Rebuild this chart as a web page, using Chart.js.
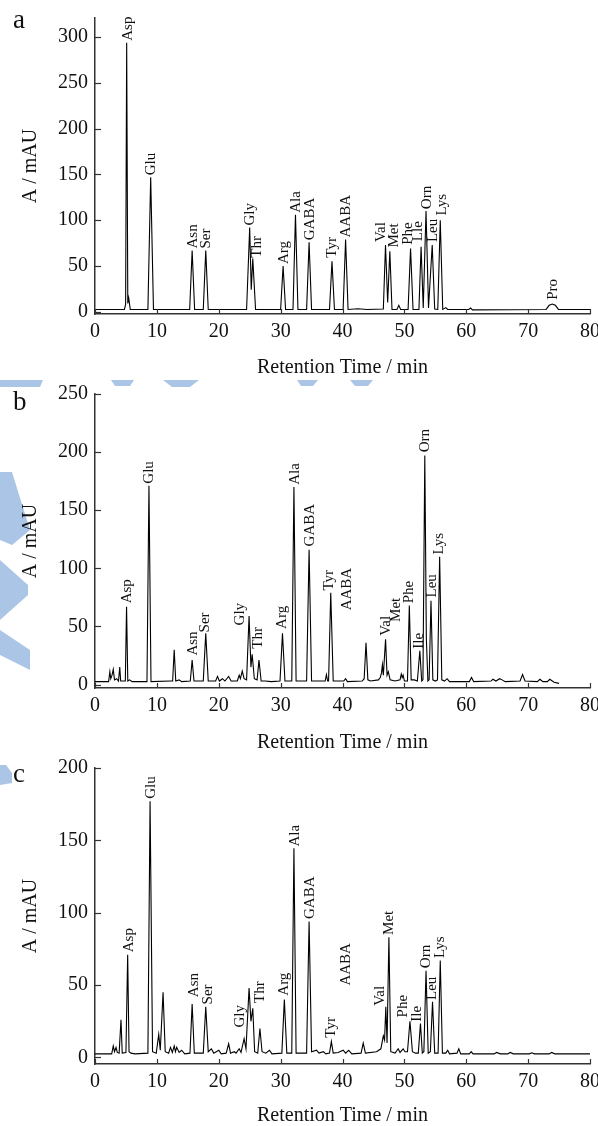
<!DOCTYPE html>
<html>
<head>
<meta charset="utf-8">
<script src="https://cdn.jsdelivr.net/npm/chart.js@4.4.1/dist/chart.umd.min.js"></script>
<style>
  html, body { margin: 0; padding: 0; background: #fff; }
  body { width: 598px; height: 1126px; position: relative; overflow: hidden; }
  canvas { position: absolute; left: 0; }
</style>
</head>
<body>
<canvas id="panelA" width="598" height="380" style="top:0px"></canvas>
<canvas id="panelB" width="598" height="375" style="top:380px"></canvas>
<canvas id="panelC" width="598" height="371" style="top:755px"></canvas>
<script>
// chromatogram traces, [retention time (min), absorbance (mAU)]
const traceA = [
  [0, 2.5], [4.75, 2.5], [4.95, 8], [5.12, 294], [5.3, 9], [5.45, 15], [5.7, 2.5],
  [8.55, 2.5], [9.0, 147], [9.45, 2.5],
  [15.3, 2.5], [15.7, 67], [16.1, 2.5],
  [17.5, 2.5], [17.9, 67], [18.3, 2.5],
  [24.5, 2.5], [25.0, 92], [25.25, 24], [25.5, 58], [25.95, 2.5],
  [30.0, 2.5], [30.4, 50], [30.8, 2.5],
  [32.0, 2.5], [32.4, 106], [32.8, 2.5],
  [34.2, 2.5], [34.6, 76], [35.0, 2.5],
  [37.9, 2.5], [38.3, 55], [38.7, 2.5],
  [40.1, 2.5], [40.5, 79], [40.9, 2.5], [42.5, 3.2], [44.0, 2.5],
  [46.6, 3], [46.95, 73], [47.3, 10], [47.65, 66], [48.0, 2.5],
  [48.8, 2.5], [49.1, 7], [49.4, 2.5],
  [50.6, 2.5], [51.0, 69], [51.4, 2.5],
  [52.35, 2.5], [52.7, 71], [53.05, 4], [53.5, 110], [53.9, 4], [54.5, 73], [54.9, 3],
  [55.4, 2.5], [55.8, 100], [56.2, 2.5], [56.7, 4.5], [57.0, 2.5],
  [60.4, 2.5], [60.7, 4], [61.0, 2], [72.9, 2.5], [73.4, 7], [73.9, 8.4], [74.4, 7], [74.9, 2.5],
  [80, 2.5]
];
const traceB = [
  [0, 2.5], [2.2, 2.5], [2.4, 11], [2.55, 5], [2.75, 8], [2.95, 13], [3.15, 4], [3.5, 5], [3.8, 3],
  [4.0, 15], [4.15, 3], [4.9, 3], [5.1, 67], [5.3, 3], [5.6, 4], [6.0, 2.5],
  [8.4, 2.5], [8.72, 171], [9.05, 2.5],
  [12.2, 3], [12.55, 3], [12.8, 30], [13.05, 3], [13.6, 4], [14.0, 2.5],
  [15.4, 3], [15.7, 21], [16.0, 3],
  [17.5, 3], [17.9, 44], [18.3, 3],
  [19.5, 3], [19.8, 7], [20.1, 3], [20.6, 5], [21.0, 3], [21.6, 7], [22.0, 3], [23.0, 3],
  [23.3, 8], [23.5, 5], [23.8, 11.5], [24.1, 5], [24.5, 4],
  [24.9, 59], [25.2, 15], [25.4, 26], [25.75, 5], [26.2, 4], [26.5, 21], [26.85, 3], [27.5, 3], [28.5, 2.5],
  [29.9, 3], [30.3, 44], [30.7, 3],
  [31.8, 3], [32.15, 170], [32.5, 3],
  [34.2, 3], [34.6, 116], [35.0, 3],
  [37.2, 3], [37.4, 8.5], [37.6, 3], [37.75, 3], [38.1, 79], [38.5, 3],
  [40.2, 3], [40.5, 5], [40.8, 2.5], [43.2, 3], [43.5, 5], [43.8, 36], [44.1, 4], [44.5, 3],
  [45.8, 4], [46.1, 6], [46.3, 10], [46.45, 17], [46.6, 8], [46.96, 39], [47.2, 8], [47.4, 11], [47.7, 4],
  [48.5, 3], [49.3, 4], [49.5, 9], [49.65, 6], [49.8, 8], [50.0, 3],
  [50.5, 3], [50.8, 68], [51.1, 4], [51.6, 4], [52.1, 3], [52.5, 29], [52.8, 3], [53.0, 4],
  [53.3, 197], [53.55, 40], [53.8, 3], [54.0, 4], [54.3, 72], [54.6, 4], [55.0, 3],
  [55.35, 4], [55.7, 110], [56.05, 4], [56.5, 3], [56.9, 5], [57.3, 2.5],
  [60.5, 2.5], [60.85, 6], [61.2, 2.5], [64.0, 3], [64.3, 4.5], [64.8, 3], [65.4, 5], [65.8, 4], [66.3, 2.5],
  [68.7, 3], [69.1, 8.5], [69.5, 3], [71.5, 2.5], [71.9, 4.5], [72.4, 2.5], [73.1, 2.5], [73.5, 4.5],
  [74.2, 2], [75.0, 1]
];
const traceC = [
  [0, 2.5], [2.7, 2.5], [2.95, 8], [3.15, 4], [3.4, 7], [3.6, 3.5], [3.9, 3], [4.2, 26], [4.4, 3],
  [5.0, 3.5], [5.28, 71], [5.5, 4], [5.8, 3], [6.5, 2.5],
  [8.55, 3], [8.9, 177], [9.3, 4], [9.9, 3], [10.3, 16], [10.55, 5], [11.0, 45], [11.35, 4],
  [11.9, 3], [12.2, 7], [12.5, 3.5], [12.8, 8], [13.0, 4], [13.2, 7], [13.6, 3.5], [14.0, 5], [14.5, 2.5],
  [15.35, 3], [15.7, 37], [16.05, 3], [17.5, 3], [17.9, 35], [18.3, 4], [18.8, 6], [19.2, 3],
  [20.0, 5], [20.4, 2.5], [21.2, 3], [21.6, 9.5], [21.9, 3], [22.5, 4], [22.8, 3], [23.3, 6], [23.6, 3.5],
  [24.1, 13], [24.4, 6], [24.9, 48], [25.2, 25], [25.5, 34], [25.8, 4], [26.3, 3], [26.65, 20], [27.0, 4],
  [27.6, 3], [28.2, 5], [28.6, 2.5],
  [30.2, 3], [30.6, 40], [31.0, 3], [31.8, 3], [32.15, 144.5], [32.5, 3], [34.2, 3], [34.6, 94], [35.0, 4],
  [35.8, 5], [36.2, 3], [36.9, 4], [37.3, 2.5], [37.9, 3], [38.2, 11], [38.5, 3], [39.3, 3.5],
  [40.1, 5], [40.5, 3], [41.0, 5], [41.5, 2.5], [43.0, 3], [43.35, 10], [43.7, 3],
  [45.5, 4], [46.2, 6], [46.6, 15], [46.8, 12], [47.0, 35], [47.2, 10], [47.5, 83], [47.8, 4],
  [48.5, 3], [49.0, 6], [49.3, 3.5], [49.8, 6], [50.1, 4], [50.5, 4], [50.9, 25], [51.3, 4], [51.8, 3],
  [52.25, 3], [52.6, 23.5], [52.9, 3], [53.15, 4], [53.5, 60], [53.85, 3], [54.2, 4], [54.55, 38.5], [54.9, 3],
  [55.45, 3], [55.8, 67], [56.15, 3], [56.7, 3], [57.0, 5], [57.3, 2.5], [58.5, 3], [58.8, 6], [59.1, 2.5],
  [60.5, 2.5], [60.8, 4], [61.1, 2.5], [64.5, 2.5], [64.9, 3.5], [65.5, 2.5], [66.7, 2.5], [67.1, 3.5],
  [67.6, 2.5], [70.2, 2.5], [70.6, 3.2], [71.0, 2.5], [73.4, 2.5], [73.8, 3.5], [74.3, 2.5], [80, 2.5]
];

// peak names and where each label starts (time, mAU)
const namesA = ['Asp', 'Glu', 'Asn', 'Ser', 'Gly', 'Thr', 'Arg', 'Ala', 'GABA', 'Tyr', 'AABA',
  'Val', 'Met', 'Phe', 'Lle', 'Orn', 'Leu', 'Lys', 'Pro'];
const labelTimeA = [5.3, 9.1, 15.8, 18.0, 25.1, 26.2, 30.5, 32.5, 34.7, 38.3, 40.6,
  46.3, 48.4, 50.6, 52.2, 53.6, 54.7, 56.1, 74.0];
const labelValA = [295, 148, 68, 68, 93, 58, 51, 107, 77, 58, 80,
  75, 69, 72, 76, 111, 75, 104, 12];

const namesB = ['Asp', 'Glu', 'Asn', 'Ser', 'Gly', 'Thr', 'Arg', 'Ala', 'GABA', 'Tyr', 'AABA',
  'Val', 'Met', 'Phe', 'Ile', 'Orn', 'Leu', 'Lys'];
const labelTimeB = [5.25, 8.7, 15.8, 17.8, 23.4, 26.4, 30.3, 32.3, 34.7, 37.8, 40.7,
  47.0, 48.7, 50.8, 52.4, 53.3, 54.4, 55.6];
const labelValB = [69, 172, 24, 44, 50, 30, 47, 171, 118, 80, 63,
  41, 53, 69, 30, 199, 74, 111];

const namesC = ['Asp', 'Glu', 'Asn', 'Ser', 'Gly', 'Thr', 'Arg', 'Ala', 'GABA', 'Tyr', 'AABA',
  'Val', 'Met', 'Phe', 'Ile', 'Orn', 'Leu', 'Lys'];
const labelTimeC = [5.5, 9.0, 16.0, 18.2, 23.5, 26.6, 30.5, 32.3, 34.7, 38.2, 40.6,
  46.0, 47.6, 49.8, 52.0, 53.5, 54.4, 55.8];
const labelValC = [72, 178, 41, 36, 20, 37, 42, 145, 95, 13, 49,
  35, 84, 27, 24, 61, 39, 68];

const timeTicks = [0, 10, 20, 30, 40, 50, 60, 70, 80];
const ticksA = [0, 50, 100, 150, 200, 250, 300];
const ticksB = [0, 50, 100, 150, 200, 250];
const ticksC = [0, 50, 100, 150, 200];

const SERIF = '"Liberation Serif", "Times New Roman", serif';
const AXIS = '#333';
const WATERMARK = '#aac5e6';

// faint journal watermark behind panels b and c (canvas pixels)
const watermarkB = [
  [[0, 0], [43, 0], [40, 7], [0, 7]],
  [[111, 0], [134, 0], [130, 6], [115, 6]],
  [[163, 0], [199, 0], [190, 7], [172, 7]],
  [[297, 0], [318, 0], [313, 6], [301, 6]],
  [[350, 0], [373, 0], [368, 6], [355, 6]],
  [[0, 92], [12, 92], [30, 150], [12, 165], [0, 160]],
  [[0, 180], [28, 205], [28, 215], [0, 240]],
  [[0, 250], [30, 270], [30, 290], [0, 275]]
];
const watermarkC = [
  [[0, 10], [6, 10], [12, 18], [12, 28], [0, 30]]
];

const watermarkPlugin = {
  id: 'watermark',
  beforeDraw(chart, args, opts) {
    if (!opts.shapes) return;
    const ctx = chart.ctx;
    ctx.save();
    ctx.fillStyle = WATERMARK;
    opts.shapes.forEach(shape => {
      ctx.beginPath();
      shape.forEach((p, i) => (i ? ctx.lineTo(p[0], p[1]) : ctx.moveTo(p[0], p[1])));
      ctx.closePath();
      ctx.fill();
    });
    ctx.restore();
  }
};

// inward tick marks, rotated peak names and the panel letter
const markPlugin = {
  id: 'marks',
  afterDatasetsDraw(chart, args, opts) {
    const ctx = chart.ctx;
    const x = chart.scales.x;
    const y = chart.scales.y;
    ctx.save();
    ctx.strokeStyle = AXIS;
    ctx.lineWidth = 1.2;
    x.ticks.forEach(t => {
      const px = Math.round(x.getPixelForValue(t.value)) + 0.5;
      ctx.beginPath();
      ctx.moveTo(px, x.top);
      ctx.lineTo(px, x.top - 5);
      ctx.stroke();
    });
    y.ticks.forEach(t => {
      const py = Math.round(y.getPixelForValue(t.value)) + 0.5;
      ctx.beginPath();
      ctx.moveTo(y.right, py);
      ctx.lineTo(y.right + 6, py);
      ctx.stroke();
    });

    ctx.fillStyle = '#111';
    ctx.font = '15px ' + SERIF;
    opts.names.forEach((name, i) => {
      const px = x.getPixelForValue(opts.times[i]);
      const py = y.getPixelForValue(opts.values[i]);
      ctx.save();
      ctx.translate(px, py - 1);
      ctx.rotate(-Math.PI / 2);
      ctx.textAlign = 'left';
      ctx.textBaseline = 'middle';
      ctx.fillText(name, 0, 0);
      ctx.restore();
    });

    ctx.font = '27px ' + SERIF;
    ctx.textAlign = 'left';
    ctx.textBaseline = 'alphabetic';
    ctx.fillText(opts.letter, 13, opts.letterY);
    ctx.restore();
  }
};

function makePanel(canvasId, trace, names, times, values, yTicks, yMin, yMax, opts) {
  const ctx = document.getElementById(canvasId).getContext('2d');
  const canvasH = ctx.canvas.height;

  return new Chart(ctx, {
    type: 'line',
    data: {
      datasets: [{
        data: trace.map(p => ({ x: p[0], y: p[1] })),
        borderColor: '#000',
        borderWidth: 1.1,
        pointRadius: 0,
        tension: 0,
        fill: false
      }]
    },
    options: {
      responsive: false,
      animation: false,
      devicePixelRatio: 1,
      events: [],
      layout: { padding: { top: opts.top, right: 8, bottom: 0, left: 0 } },
      plugins: {
        legend: { display: false },
        tooltip: { enabled: false },
        watermark: { shapes: opts.shapes },
        marks: { names: names, times: times, values: values, letter: opts.letter, letterY: opts.letterY }
      },
      scales: {
        x: {
          type: 'linear',
          min: 0,
          max: 80,
          afterBuildTicks: s => { s.ticks = timeTicks.map(v => ({ value: v })); },
          afterFit: s => {
            s.height = canvasH - opts.top - opts.plotH;
            s.paddingLeft = s.paddingRight = 0;
          },
          grid: { display: false, drawTicks: false },
          border: { display: true, color: AXIS, width: 1.5 },
          ticks: { color: '#111', padding: 6, maxRotation: 0, font: { family: SERIF, size: 20 } },
          title: {
            display: true,
            text: 'Retention Time / min',
            color: '#111',
            padding: { top: 0, bottom: opts.titlePad },
            font: { family: SERIF, size: 20, lineHeight: 1 }
          }
        },
        y: {
          min: yMin,
          max: yMax,
          afterBuildTicks: s => { s.ticks = yTicks.map(v => ({ value: v })); },
          afterFit: s => {
            s.width = 95;
            s.paddingTop = s.paddingBottom = 0;
          },
          grid: { display: false, drawTicks: false },
          border: { display: true, color: AXIS, width: 1.5 },
          ticks: { color: '#111', padding: 7, font: { family: SERIF, size: 20 } },
          title: {
            display: true,
            text: 'A / mAU',
            color: '#111',
            padding: { top: 21, bottom: 0 },
            font: { family: SERIF, size: 20, lineHeight: 1 }
          }
        }
      }
    },
    plugins: [watermarkPlugin, markPlugin]
  });
}

makePanel('panelA', traceA, namesA, labelTimeA, labelValA, ticksA, -2.5, 321,
  { top: 18, plotH: 296, titlePad: 2, letter: 'a', letterY: 28, shapes: null });
makePanel('panelB', traceB, namesB, labelTimeB, labelValB, ticksB, -3, 250,
  { top: 14, plotH: 294, titlePad: 2, letter: 'b', letterY: 30, shapes: watermarkB });
makePanel('panelC', traceC, namesC, labelTimeC, labelValC, ticksC, -4.5, 200,
  { top: 13, plotH: 296, titlePad: 0, letter: 'c', letterY: 27, shapes: watermarkC });
</script>
</body>
</html>
